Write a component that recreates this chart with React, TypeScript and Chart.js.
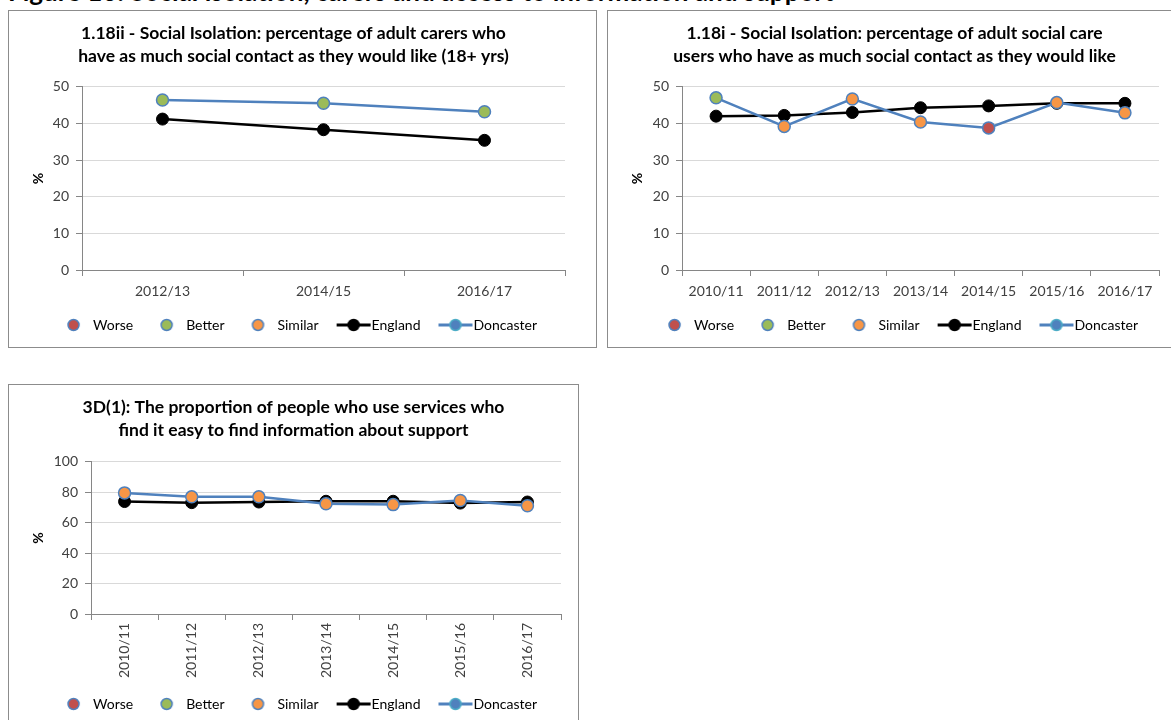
import React, { useEffect, useRef } from "react";
import { Chart, registerables } from "chart.js";

Chart.register(...registerables);

const FONT_FAMILY = "Lato, 'Open Sans', Arial, sans-serif";

const pageHeading = "Figure 10: Social isolation, carers and access to information and support";

// Chart 1 – carers
const carersTitle = [
  "1.18ii - Social Isolation: percentage of adult carers who",
  "have as much social contact as they would like (18+ yrs)",
];
const carersYears = ["2012/13", "2014/15", "2016/17"];
const carersEngland = [41.2, 38.3, 35.4];
const carersDoncaster = [46.4, 45.5, 43.2];
const carersStatus = ["Better", "Better", "Better"];

// Chart 2 – social care users
const usersTitle = [
  "1.18i - Social Isolation: percentage of adult social care",
  "users who have as much social contact as they would like",
];
const usersYears = ["2010/11", "2011/12", "2012/13", "2013/14", "2014/15", "2015/16", "2016/17"];
const usersEngland = [42.0, 42.2, 43.0, 44.3, 44.8, 45.5, 45.5];
const usersDoncaster = [47.0, 39.2, 46.7, 40.4, 38.8, 45.7, 42.9];
const usersStatus = ["Better", "Similar", "Similar", "Similar", "Worse", "Similar", "Similar"];

// Chart 3 – information about support
const infoTitle = [
  "3D(1): The proportion of people who use services who",
  "find it easy to find information about support",
];
const infoYears = ["2010/11", "2011/12", "2012/13", "2013/14", "2014/15", "2015/16", "2016/17"];
const infoEngland = [73.9, 73.2, 73.6, 74.1, 74.1, 72.9, 73.6];
const infoDoncaster = [79.6, 77.0, 77.0, 72.4, 71.9, 74.6, 71.2];
const infoStatus = ["Similar", "Similar", "Similar", "Similar", "Similar", "Similar", "Similar"];

const STATUS_NAMES = ["Worse", "Better", "Similar"];
const STATUS_COLORS = ["#C0504D", "#9BBB59", "#F79646"];
const DONCASTER_BLUE = "#4F81BD";
const MARKER_EDGE = "#4F81BD";
const AXIS_GRAY = "#868686";
const GRID_GRAY = "#D9D9D9";
const TEXT_GRAY = "#404040";

const LEGEND_BOX = 36;

// circle sits near the right of the legend box, leaving a gap before it
function circleIcon(fill: string, stroke: string) {
  const c = document.createElement("canvas");
  c.width = LEGEND_BOX;
  c.height = 14;
  const ctx = c.getContext("2d")!;
  ctx.beginPath();
  ctx.arc(23.5, 7, 5.5, 0, Math.PI * 2);
  ctx.fillStyle = fill;
  ctx.fill();
  ctx.lineWidth = 1.5;
  ctx.strokeStyle = stroke;
  ctx.stroke();
  return c;
}

// image (52 wide) is centred on the legend box; the line runs from box x=8 to x=42
function lineIcon(color: string, fill: string, stroke: string) {
  const c = document.createElement("canvas");
  c.width = 52;
  c.height = 14;
  const ctx = c.getContext("2d")!;
  ctx.beginPath();
  ctx.moveTo(16, 7);
  ctx.lineTo(50, 7);
  ctx.lineWidth = 3;
  ctx.strokeStyle = color;
  ctx.stroke();
  ctx.beginPath();
  ctx.arc(33, 7, 5.5, 0, Math.PI * 2);
  ctx.fillStyle = fill;
  ctx.fill();
  ctx.lineWidth = 1.5;
  ctx.strokeStyle = stroke;
  ctx.stroke();
  return c;
}

type Cfg = {
  left: number;
  top: number;
  width: number;
  height: number;
  title: string[];
  labels: string[];
  england: number[];
  doncaster: number[];
  status: string[];
  yMax: number;
  yStep: number;
  rotate: boolean;
  padL: number;
  padR: number;
  yWidth: number;
  extraRight: number;
  xHeight: number;
  xTickPad: number;
  titlePadBottom: number;
  padBottom: number;
};

function ChartBox({ cfg }: { cfg: Cfg }) {
  const ref = useRef<HTMLCanvasElement | null>(null);
  const cw = cfg.width - 2;
  const ch = cfg.height - 2;

  useEffect(() => {
    const tickFont = { family: FONT_FAMILY, size: 14 };
    const statusSets = STATUS_NAMES.map((name, k) => ({
      label: name,
      data: cfg.doncaster.map((v, i) => (cfg.status[i] === name ? v : null)),
      showLine: false,
      borderColor: MARKER_EDGE,
      backgroundColor: STATUS_COLORS[k],
      pointRadius: 6,
      pointBackgroundColor: STATUS_COLORS[k],
      pointBorderColor: MARKER_EDGE,
      pointBorderWidth: 1.5,
      order: 0,
    }));
    const icons = [
      ...STATUS_COLORS.map((c) => circleIcon(c, MARKER_EDGE)),
      lineIcon("#000", "#000", "#000"),
      lineIcon(DONCASTER_BLUE, DONCASTER_BLUE, "#4BACC6"),
    ];
    const chart = new Chart(ref.current!, {
      type: "line",
      data: {
        labels: cfg.labels,
        datasets: [
          ...statusSets,
          {
            label: "England",
            data: cfg.england,
            borderColor: "#000",
            backgroundColor: "#000",
            borderWidth: 2.5,
            pointRadius: 6,
            pointBackgroundColor: "#000",
            pointBorderColor: "#000",
            pointBorderWidth: 1,
            order: 2,
          },
          {
            label: "Doncaster",
            data: cfg.doncaster,
            borderColor: DONCASTER_BLUE,
            backgroundColor: DONCASTER_BLUE,
            borderWidth: 2.5,
            pointRadius: 0,
            order: 1,
          },
        ] as any,
      },
      options: {
        animation: false,
        responsive: false,
        maintainAspectRatio: false,
        layout: { padding: { left: cfg.padL, right: cfg.padR, top: 0, bottom: cfg.padBottom } },
        plugins: {
          title: {
            display: true,
            text: cfg.title,
            color: "#000",
            font: { family: FONT_FAMILY, size: 17.5, weight: "bold", lineHeight: 1.31 },
            padding: { top: 11, bottom: cfg.titlePadBottom },
          },
          legend: {
            position: "bottom",
            labels: {
              usePointStyle: true,
              pointStyleWidth: LEGEND_BOX,
              padding: 10,
              color: TEXT_GRAY,
              font: tickFont,
              generateLabels: (c: any) =>
                c.data.datasets.map((ds: any, i: number) => ({
                  text: ds.label,
                  pointStyle: icons[i],
                  datasetIndex: i,
                  hidden: false,
                  lineWidth: 0,
                  fillStyle: "rgba(0,0,0,0)",
                  strokeStyle: "rgba(0,0,0,0)",
                })),
            },
          },
          tooltip: { enabled: false },
        },
        scales: {
          x: {
            offset: true,
            grid: {
              offset: true,
              drawOnChartArea: false,
              drawTicks: true,
              tickLength: 6,
              color: AXIS_GRAY,
            },
            border: { color: AXIS_GRAY, width: 1 },
            ticks: {
              font: tickFont,
              color: TEXT_GRAY,
              padding: cfg.xTickPad,
              maxRotation: cfg.rotate ? 90 : 0,
              minRotation: cfg.rotate ? 90 : 0,
              autoSkip: false,
            },
            afterFit: (s: any) => {
              s.height = cfg.xHeight;
            },
          },
          y: {
            min: 0,
            max: cfg.yMax,
            ticks: { stepSize: cfg.yStep, font: tickFont, color: TEXT_GRAY, padding: 7 },
            grid: { color: GRID_GRAY, tickColor: AXIS_GRAY, tickLength: 6, lineWidth: 1 },
            border: { color: AXIS_GRAY },
            title: {
              display: true,
              text: "%",
              color: "#000",
              font: { family: FONT_FAMILY, size: 14, weight: "bold" },
              padding: { top: 21 - cfg.padL, bottom: 4 },
            },
            afterFit: (s: any) => {
              s.width = cfg.yWidth;
            },
          },
          yR: {
            position: "right",
            display: cfg.extraRight > 0,
            grid: { display: false },
            border: { display: false },
            ticks: { display: false },
            afterFit: (s: any) => {
              s.width = cfg.extraRight;
            },
          },
        },
      } as any,
    });
    return () => chart.destroy();
  }, [cfg]);

  return (
    <div
      style={{
        position: "absolute",
        left: cfg.left,
        top: cfg.top,
        width: cfg.width,
        height: cfg.height,
        border: "1px solid #8C8C8C",
        boxSizing: "border-box",
        background: "#fff",
      }}
    >
      <canvas ref={ref} width={cw} height={ch} style={{ display: "block", width: cw, height: ch }} />
    </div>
  );
}

const chartCarers: Cfg = {
  left: 8, top: 10, width: 589, height: 338,
  title: carersTitle, labels: carersYears, england: carersEngland, doncaster: carersDoncaster, status: carersStatus,
  yMax: 50, yStep: 10, rotate: false,
  padL: 1, padR: 19, yWidth: 72, extraRight: 12, xHeight: 38, xTickPad: 7, titlePadBottom: 19, padBottom: 5,
};

const chartUsers: Cfg = {
  left: 607, top: 10, width: 575, height: 338,
  title: usersTitle, labels: usersYears, england: usersEngland, doncaster: usersDoncaster, status: usersStatus,
  yMax: 50, yStep: 10, rotate: false,
  padL: 10, padR: 10, yWidth: 64, extraRight: 12, xHeight: 38, xTickPad: 7, titlePadBottom: 19, padBottom: 5,
};

const chartInfo: Cfg = {
  left: 8, top: 384, width: 571, height: 352,
  title: infoTitle, labels: infoYears, england: infoEngland, doncaster: infoDoncaster, status: infoStatus,
  yMax: 100, yStep: 20, rotate: true,
  padL: 10, padR: 10, yWidth: 72, extraRight: 7, xHeight: 73, xTickPad: 3, titlePadBottom: 20, padBottom: 14,
};

export default function App() {
  return (
    <div
      style={{
        position: "fixed",
        left: 0,
        top: 0,
        width: 1171,
        height: 720,
        overflow: "hidden",
        background: "#fff",
      }}
    >
      <div
        style={{
          position: "absolute",
          left: 8,
          top: -22,
          fontFamily: FONT_FAMILY,
          fontWeight: "bold",
          fontSize: 26,
          lineHeight: "26px",
          whiteSpace: "nowrap",
          color: "#000",
        }}
      >
        {pageHeading}
      </div>
      <ChartBox cfg={chartCarers} />
      <ChartBox cfg={chartUsers} />
      <ChartBox cfg={chartInfo} />
    </div>
  );
}
